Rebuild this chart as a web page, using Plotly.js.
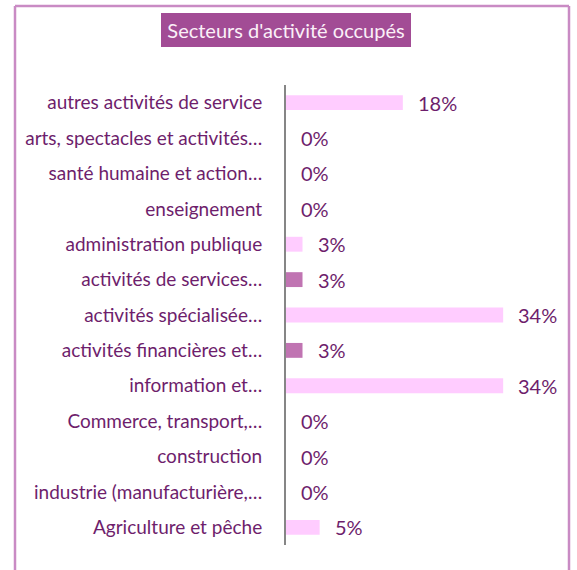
<!DOCTYPE html>
<html>
<head>
<meta charset="utf-8">
<script src="https://cdn.plot.ly/plotly-3.0.1.min.js"></script>
<style>
html,body{margin:0;padding:0;background:#fff;}
#chart{width:577px;height:570px;}
</style>
</head>
<body>
<div id="chart"></div>
<script>
// Categories, top to bottom
const categories = [
  "autres activités de service",
  "arts, spectacles et activités…",
  "santé humaine et action…",
  "enseignement",
  "administration publique",
  "activités de services…",
  "activités spécialisée…",
  "activités financières et…",
  "information et…",
  "Commerce, transport,…",
  "construction",
  "industrie (manufacturière,…",
  "Agriculture et pêche"
];
// Share of respondents (%)
const values = [18.4, 0, 0, 0, 2.6, 2.6, 34.2, 2.6, 34.2, 0, 0, 0, 5.3];
// Value labels as printed
const valueLabels = ["18%", "0%", "0%", "0%", "3%", "3%", "34%", "3%", "34%", "0%", "0%", "0%", "5%"];
// Bar colour group: 1 = darker highlight
const highlight = [0, 0, 0, 0, 0, 1, 0, 1, 0, 0, 0, 0, 0];
const titleText = "Secteurs d'activité occupés";

const lightPink = "#FFCCFF";
const darkPink = "#C074B2";
const textColor = "#6E1E6C";
const font = "Lato, 'Open Sans', sans-serif";

const trace = {
  type: "bar",
  orientation: "h",
  y: categories,
  x: values,
  marker: {color: highlight.map(h => h ? darkPink : lightPink)},
  hoverinfo: "none"
};

const annotations = categories.map((c, i) => ({
  x: values[i], y: c, xref: "x", yref: "y",
  text: valueLabels[i], showarrow: false,
  xanchor: "left", yanchor: "middle", xshift: 13, yshift: 0,
  font: {family: font, size: 20, color: textColor}
}));
annotations.push({
  x: 0, y: 1.1196, xref: "paper", yref: "paper",
  text: titleText, showarrow: false,
  xanchor: "center", yanchor: "middle",
  bgcolor: "#A24C95", borderpad: 6, borderwidth: 0,
  width: 238, height: 22,
  font: {family: font, size: 20, color: "#FBF0F8"}
});

const layout = {
  width: 577, height: 570,
  margin: {l: 286, r: 37, t: 85, b: 25},
  paper_bgcolor: "#fff", plot_bgcolor: "#fff",
  showlegend: false,
  bargap: 0.58,
  xaxis: {range: [0, 40], visible: false, fixedrange: true},
  yaxis: {
    type: "category", autorange: "reversed",
    showline: true, linecolor: "#868686", linewidth: 2,
    showgrid: false, zeroline: false, ticks: "",
    ticklabelstandoff: 18,
    tickfont: {family: font, size: 19, color: textColor}
  },
  annotations: annotations,
  shapes: [
    {type: "line", xref: "paper", yref: "paper",
     x0: (15 - 286) / 254, x1: (15 - 286) / 254, y0: (545 - 6) / 460, y1: (545 - 580) / 460,
     line: {color: "#C98BC4", width: 2.5}},
    {type: "line", xref: "paper", yref: "paper",
     x0: (569 - 286) / 254, x1: (569 - 286) / 254, y0: (545 - 6) / 460, y1: (545 - 580) / 460,
     line: {color: "#C98BC4", width: 2.5}},
    {type: "line", xref: "paper", yref: "paper",
     x0: (15 - 286) / 254, x1: (569 - 286) / 254, y0: (545 - 6) / 460, y1: (545 - 6) / 460,
     line: {color: "#C98BC4", width: 2.5}}
  ]
};

Plotly.newPlot("chart", [trace], layout, {displayModeBar: false, staticPlot: true});
</script>
</body>
</html>
